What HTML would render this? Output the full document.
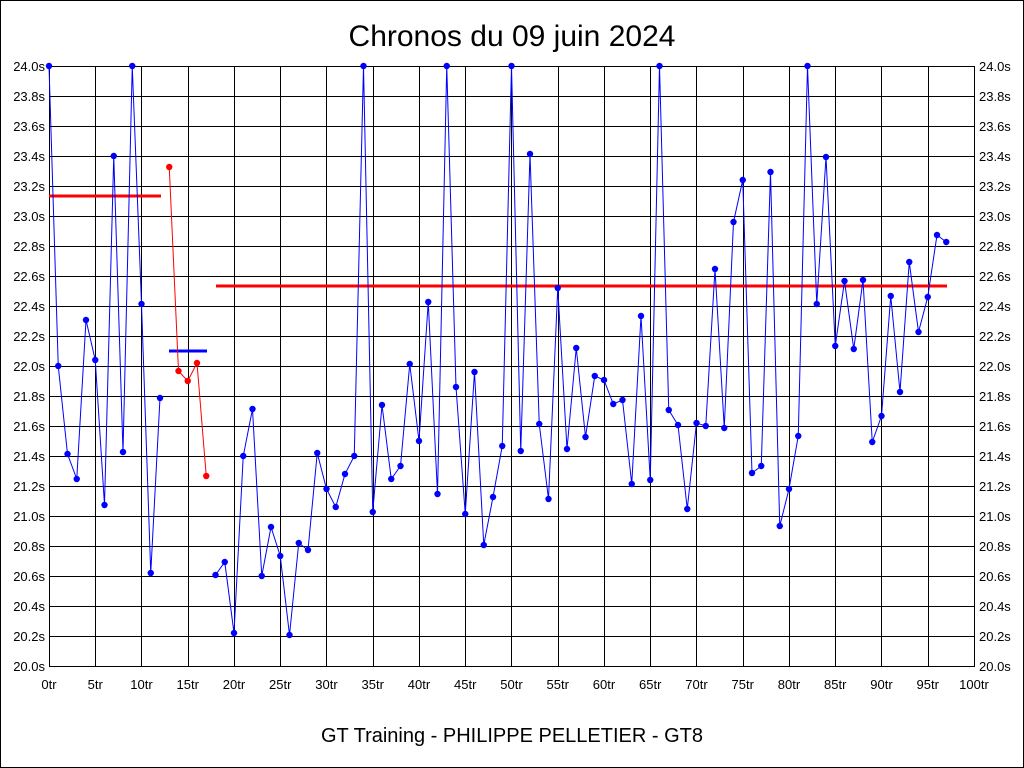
<!DOCTYPE html>
<html><head><meta charset="utf-8"><style>
html,body{margin:0;padding:0;background:#fff}
svg{display:block}
text{font-family:"Liberation Sans",sans-serif}
</style></head><body>
<svg width="1024" height="768" viewBox="0 0 1024 768" xmlns="http://www.w3.org/2000/svg">
<rect x="0.5" y="0.5" width="1023" height="767" fill="#fff" stroke="#000"/>
<g stroke="#000" stroke-width="1" shape-rendering="crispEdges">
<path d="M49.5 66V666M95.5 66V666M141.5 66V666M188.5 66V666M234.5 66V666M280.5 66V666M326.5 66V666M373.5 66V666M419.5 66V666M465.5 66V666M511.5 66V666M558.5 66V666M604.5 66V666M650.5 66V666M696.5 66V666M743.5 66V666M789.5 66V666M835.5 66V666M881.5 66V666M928.5 66V666M974.5 66V666"/>
<path d="M49 66.5H975M49 96.5H975M49 126.5H975M49 156.5H975M49 186.5H975M49 216.5H975M49 246.5H975M49 276.5H975M49 306.5H975M49 336.5H975M49 366.5H975M49 396.5H975M49 426.5H975M49 456.5H975M49 486.5H975M49 516.5H975M49 546.5H975M49 576.5H975M49 606.5H975M49 636.5H975M49 666.5H975"/>
</g>
<text x="512" y="46" font-size="30" text-anchor="middle">Chronos du 09 juin 2024</text>
<text x="512" y="742" font-size="20" text-anchor="middle">GT Training - PHILIPPE PELLETIER - GT8</text>
<g font-size="13" fill="#000" text-anchor="end">
<text x="45" y="71">24.0s</text><text x="45" y="101">23.8s</text><text x="45" y="131">23.6s</text><text x="45" y="161">23.4s</text><text x="45" y="191">23.2s</text><text x="45" y="221">23.0s</text><text x="45" y="251">22.8s</text><text x="45" y="281">22.6s</text><text x="45" y="311">22.4s</text><text x="45" y="341">22.2s</text><text x="45" y="371">22.0s</text><text x="45" y="401">21.8s</text><text x="45" y="431">21.6s</text><text x="45" y="461">21.4s</text><text x="45" y="491">21.2s</text><text x="45" y="521">21.0s</text><text x="45" y="551">20.8s</text><text x="45" y="581">20.6s</text><text x="45" y="611">20.4s</text><text x="45" y="641">20.2s</text><text x="45" y="671">20.0s</text>
</g>
<g font-size="13" fill="#000" text-anchor="start">
<text x="979" y="71">24.0s</text><text x="979" y="101">23.8s</text><text x="979" y="131">23.6s</text><text x="979" y="161">23.4s</text><text x="979" y="191">23.2s</text><text x="979" y="221">23.0s</text><text x="979" y="251">22.8s</text><text x="979" y="281">22.6s</text><text x="979" y="311">22.4s</text><text x="979" y="341">22.2s</text><text x="979" y="371">22.0s</text><text x="979" y="401">21.8s</text><text x="979" y="431">21.6s</text><text x="979" y="461">21.4s</text><text x="979" y="491">21.2s</text><text x="979" y="521">21.0s</text><text x="979" y="551">20.8s</text><text x="979" y="581">20.6s</text><text x="979" y="611">20.4s</text><text x="979" y="641">20.2s</text><text x="979" y="671">20.0s</text>
</g>
<g font-size="13" fill="#000" text-anchor="middle">
<text x="49" y="689">0tr</text><text x="95.25" y="689">5tr</text><text x="141.5" y="689">10tr</text><text x="187.75" y="689">15tr</text><text x="234" y="689">20tr</text><text x="280.25" y="689">25tr</text><text x="326.5" y="689">30tr</text><text x="372.75" y="689">35tr</text><text x="419" y="689">40tr</text><text x="465.25" y="689">45tr</text><text x="511.5" y="689">50tr</text><text x="557.75" y="689">55tr</text><text x="604" y="689">60tr</text><text x="650.25" y="689">65tr</text><text x="696.5" y="689">70tr</text><text x="742.75" y="689">75tr</text><text x="789" y="689">80tr</text><text x="835.25" y="689">85tr</text><text x="881.5" y="689">90tr</text><text x="927.75" y="689">95tr</text><text x="974" y="689">100tr</text>
</g>
<defs>
<marker id="mb" markerWidth="8" markerHeight="8" refX="4" refY="4" markerUnits="userSpaceOnUse"><circle cx="4" cy="4" r="3.2" fill="#0000ff"/></marker>
<marker id="mr" markerWidth="8" markerHeight="8" refX="4" refY="4" markerUnits="userSpaceOnUse"><circle cx="4" cy="4" r="3.2" fill="#ff0000"/></marker>
</defs>
<line x1="49" y1="196" x2="161" y2="196" stroke="#ff0000" stroke-width="3"/>
<line x1="216" y1="286" x2="947" y2="286" stroke="#ff0000" stroke-width="3"/>
<line x1="169" y1="351" x2="207" y2="351" stroke="#0000ff" stroke-width="3"/>
<polyline fill="none" stroke="#0000ff" stroke-width="1" marker-start="url(#mb)" marker-mid="url(#mb)" marker-end="url(#mb)" points="49,66 58.25,366 67.5,454 76.75,479 86,320 95.25,360 104.5,505 113.75,156 123,452 132.25,66 141.5,304 150.75,573 160,398"/>
<polyline fill="none" stroke="#ff0000" stroke-width="1" marker-start="url(#mr)" marker-mid="url(#mr)" marker-end="url(#mr)" points="169.25,167 178.5,371 187.75,381 197,363 206.25,476"/>
<polyline fill="none" stroke="#0000ff" stroke-width="1" marker-start="url(#mb)" marker-mid="url(#mb)" marker-end="url(#mb)" points="215.5,575 224.75,562 234,633 243.25,456 252.5,409 261.75,576 271,527 280.25,556 289.5,635 298.75,543 308,550 317.25,453 326.5,489 335.75,507 345,474 354.25,456 363.5,66 372.75,512 382,405 391.25,479 400.5,466 409.75,364 419,441 428.25,302 437.5,494 446.75,66 456,387 465.25,514 474.5,372 483.75,545 493,497 502.25,446 511.5,66 520.75,451 530,154 539.25,424 548.5,499 557.75,288 567,449 576.25,348 585.5,437 594.75,376 604,380 613.25,404 622.5,400 631.75,484 641,316 650.25,480 659.5,66 668.75,410 678,425 687.25,509 696.5,423 705.75,426 715,269 724.25,428 733.5,222 742.75,180 752,473 761.25,466 770.5,172 779.75,526 789,489 798.25,436 807.5,66 816.75,304 826,157 835.25,346 844.5,281 853.75,349 863,280 872.25,442 881.5,416 890.75,296 900,392 909.25,262 918.5,332 927.75,297 937,235 946.25,242"/>
</svg>
</body></html>
